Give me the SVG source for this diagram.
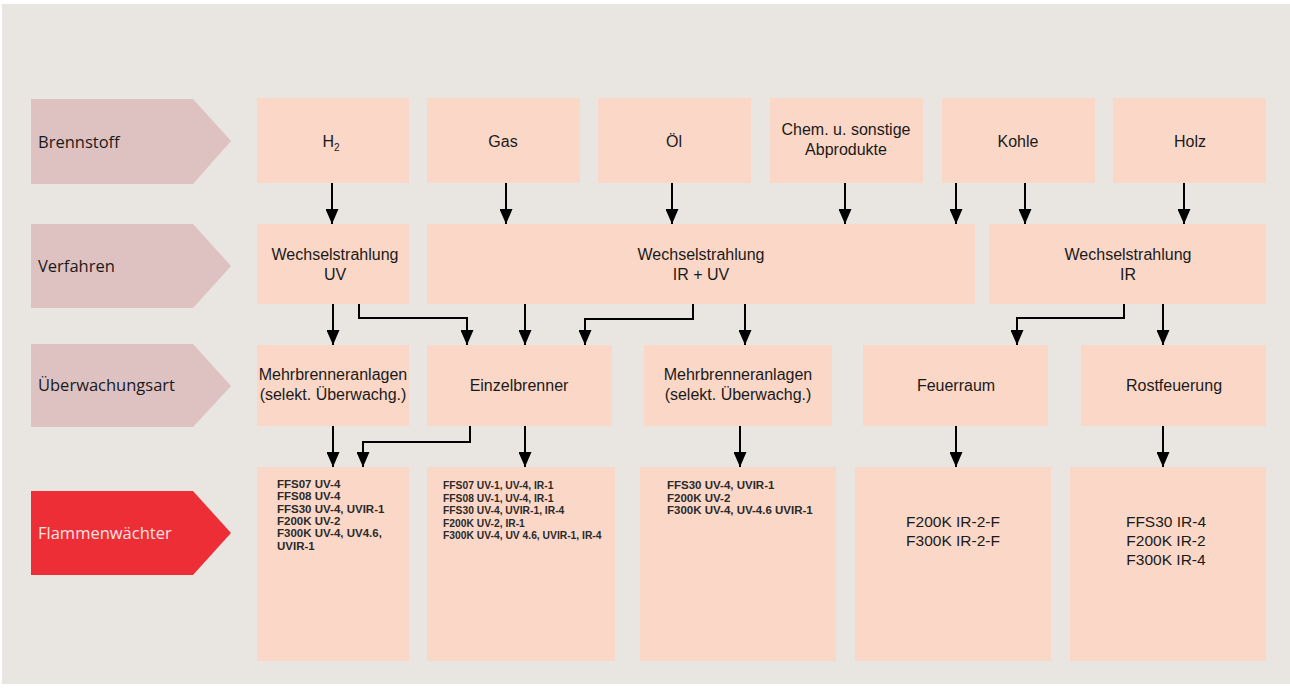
<svg xmlns="http://www.w3.org/2000/svg" width="1290" height="688" viewBox="0 0 1290 688">
<defs>
<marker id="ah" markerUnits="userSpaceOnUse" markerWidth="15" markerHeight="13" refX="15" refY="6.5" orient="auto">
<path d="M0,0 L15,6.5 L0,13 z" fill="#000"/>
</marker>
<style>
.box{fill:#FAD7C7}
.lab{fill:#DEC1C1}
.t{font-family:"Liberation Sans",Arial,sans-serif;font-size:16px;fill:#1a1a1a;text-anchor:middle}
.b{font-family:"Liberation Sans",Arial,sans-serif;font-size:15.5px;fill:#1a1a1a;text-anchor:middle}
.lt{font-family:"Open Sans","Liberation Sans",sans-serif;font-size:16.5px;fill:#1a1a1a}
.s{font-family:"Liberation Sans",Arial,sans-serif;font-size:10.3px;font-weight:bold;fill:#2a2a2a}
.s1{font-size:11.5px}
.s3{font-size:11.5px}
.c{fill:none;stroke:#000;stroke-width:2;marker-end:url(#ah)}
</style>
</defs>
<rect x="0" y="0" width="1290" height="688" fill="#fff"/>
<rect x="2" y="4" width="1288" height="680" fill="#E9E6E1"/>

<g id="lab-brennstoff"><polygon class="lab" points="31,99 193,99 231,141 193,184 31,184"/><text class="lt" x="38" y="148">Brennstoff</text></g>
<g id="lab-verfahren"><polygon class="lab" points="31,224 193,224 231,266 193,308 31,308"/><text class="lt" x="38" y="272">Verfahren</text></g>
<g id="lab-ueberwachung"><polygon class="lab" points="31,344 193,344 231,386 193,427 31,427"/><text class="lt" x="38" y="391">Überwachungsart</text></g>
<g id="lab-flammen"><polygon fill="#EE2E36" points="31,491 193,491 231,533 193,575 31,575"/><text class="lt" x="38" y="539" style="fill:#fde3e3">Flammenwächter</text></g>

<g id="n-h2"><rect class="box" x="257" y="98" width="152" height="85"/><text class="t" x="331" y="147">H<tspan font-size="10" dy="4">2</tspan></text></g>
<g id="n-gas"><rect class="box" x="427" y="98" width="153" height="85"/><text class="t" x="503" y="147">Gas</text></g>
<g id="n-oel"><rect class="box" x="598" y="98" width="153" height="85"/><text class="t" x="674" y="147">Öl</text></g>
<g id="n-chem"><rect class="box" x="770" y="98" width="153" height="85"/><text class="t" x="846" y="135">Chem. u. sonstige</text><text class="t" x="846" y="155">Abprodukte</text></g>
<g id="n-kohle"><rect class="box" x="942" y="98" width="153" height="85"/><text class="t" x="1018" y="147">Kohle</text></g>
<g id="n-holz"><rect class="box" x="1113" y="98" width="153" height="85"/><text class="t" x="1190" y="147">Holz</text></g>

<g id="n-uv"><rect class="box" x="257" y="224" width="152" height="80"/><text class="t" x="335" y="260">Wechselstrahlung</text><text class="t" x="335" y="280">UV</text></g>
<g id="n-iruv"><rect class="box" x="427" y="224" width="548" height="80"/><text class="t" x="701" y="260">Wechselstrahlung</text><text class="t" x="701" y="280">IR + UV</text></g>
<g id="n-ir"><rect class="box" x="989" y="224" width="277" height="80"/><text class="t" x="1128" y="260">Wechselstrahlung</text><text class="t" x="1128" y="280">IR</text></g>

<g id="n-mehr1"><rect class="box" x="257" y="345" width="152" height="81"/><text class="t" x="333" y="380">Mehrbrenneranlagen</text><text class="t" x="333" y="400">(selekt. Überwachg.)</text></g>
<g id="n-einzel"><rect class="box" x="427" y="345" width="185" height="81"/><text class="t" x="519" y="391">Einzelbrenner</text></g>
<g id="n-mehr2"><rect class="box" x="644" y="345" width="188" height="81"/><text class="t" x="738" y="380">Mehrbrenneranlagen</text><text class="t" x="738" y="400">(selekt. Überwachg.)</text></g>
<g id="n-feuer"><rect class="box" x="863" y="345" width="185" height="81"/><text class="t" x="956" y="391">Feuerraum</text></g>
<g id="n-rost"><rect class="box" x="1081" y="345" width="185" height="81"/><text class="t" x="1174" y="391">Rostfeuerung</text></g>

<g id="n-fw1"><rect class="box" x="257" y="467" width="152" height="194"/>
<text class="s s1" x="277" y="488">FFS07 UV-4</text>
<text class="s s1" x="277" y="500.3">FFS08 UV-4</text>
<text class="s s1" x="277" y="512.6">FFS30 UV-4, UVIR-1</text>
<text class="s s1" x="277" y="524.9">F200K UV-2</text>
<text class="s s1" x="277" y="537.2">F300K UV-4, UV4.6,</text>
<text class="s s1" x="277" y="549.5">UVIR-1</text></g>
<g id="n-fw2"><rect class="box" x="427" y="467" width="188" height="194"/>
<text class="s" x="443" y="489">FFS07 UV-1, UV-4, IR-1</text>
<text class="s" x="443" y="501.5">FFS08 UV-1, UV-4, IR-1</text>
<text class="s" x="443" y="514">FFS30 UV-4, UVIR-1, IR-4</text>
<text class="s" x="443" y="526.5">F200K UV-2, IR-1</text>
<text class="s" x="443" y="539">F300K UV-4, UV 4.6, UVIR-1, IR-4</text></g>
<g id="n-fw3"><rect class="box" x="640" y="467" width="196" height="194"/>
<text class="s s3" x="667" y="489">FFS30 UV-4, UVIR-1</text>
<text class="s s3" x="667" y="501.5">F200K UV-2</text>
<text class="s s3" x="667" y="514">F300K UV-4, UV-4.6 UVIR-1</text></g>
<g id="n-fw4"><rect class="box" x="855" y="467" width="196" height="194"/>
<text class="b" x="953" y="527">F200K IR-2-F</text>
<text class="b" x="953" y="546">F300K IR-2-F</text></g>
<g id="n-fw5"><rect class="box" x="1070" y="467" width="196" height="194"/>
<text class="b" x="1166" y="527">FFS30 IR-4</text>
<text class="b" x="1166" y="546">F200K IR-2</text>
<text class="b" x="1166" y="565">F300K IR-4</text></g>

<g id="connectors">
<path class="c" d="M332,183 V224"/>
<path class="c" d="M506,183 V224"/>
<path class="c" d="M672,183 V224"/>
<path class="c" d="M845,183 V224"/>
<path class="c" d="M956,183 V224"/>
<path class="c" d="M1025,183 V224"/>
<path class="c" d="M1184,183 V224"/>

<path class="c" d="M333,304 V345"/>
<path class="c" d="M359,304 V318 H467 V345"/>
<path class="c" d="M525,304 V345"/>
<path class="c" d="M693,304 V319 H585 V345"/>
<path class="c" d="M745,304 V345"/>
<path class="c" d="M1124,304 V318 H1017 V345"/>
<path class="c" d="M1163,304 V345"/>

<path class="c" d="M333,426 V467"/>
<path class="c" d="M470,426 V442 H363 V467"/>
<path class="c" d="M525,426 V467"/>
<path class="c" d="M740,426 V467"/>
<path class="c" d="M956,426 V467"/>
<path class="c" d="M1163,426 V467"/>
</g>
</svg>
